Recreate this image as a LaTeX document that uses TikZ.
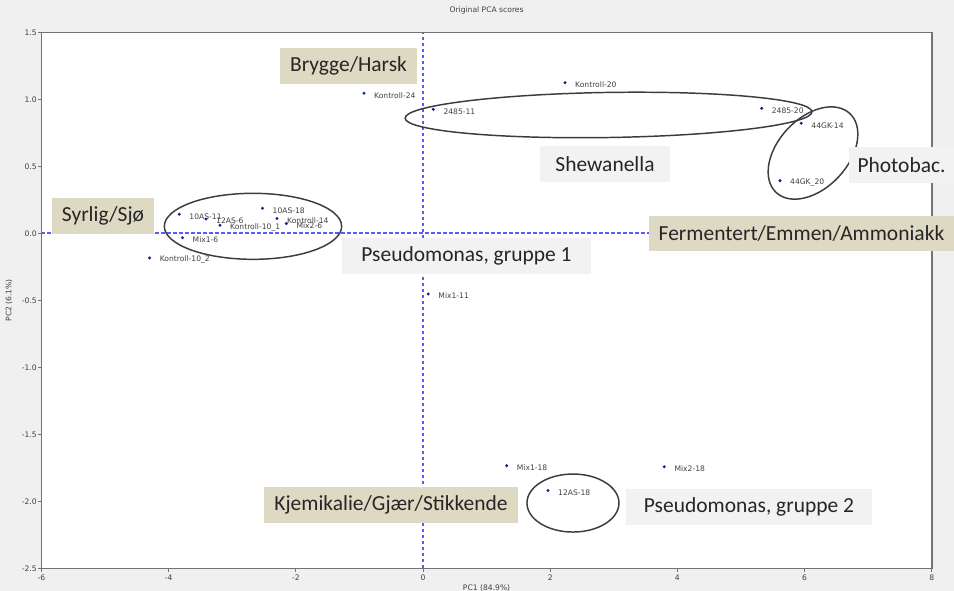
\documentclass[tikz,border=0pt]{standalone}
\usepackage{fontspec}
\setmainfont{Carlito}
\newfontfamily\plotfont{DejaVu Sans}
\usetikzlibrary{positioning}

\definecolor{figbg}{RGB}{240,240,240}
\definecolor{tanbox}{RGB}{221,217,195}
\definecolor{greybox}{RGB}{242,242,242}
\definecolor{dotblue}{RGB}{30,30,140}
\definecolor{dashblue}{RGB}{90,90,255}
\definecolor{ringgrey}{RGB}{60,60,60}
\definecolor{framegrey}{RGB}{115,115,115}

\newcommand\tinyfont{\plotfont\fontsize{5.7}{6.8}\selectfont}
\newcommand\boxfont{\fontsize{16.1}{19}\selectfont}

\tikzset{
  tanlabel/.style={fill=tanbox, text=black!85, inner sep=0pt, minimum height=26.5pt, font=\boxfont},
  greylabel/.style={fill=greybox, text=black!85, inner sep=0pt, minimum height=27pt, font=\boxfont},
  score/.style={circle, fill=dotblue, inner sep=0pt, minimum size=2.5pt},
  scorename/.style={font=\tinyfont, text=black!75, inner sep=0pt},
  ticklabel/.style={font=\tinyfont, text=black!75, inner sep=0pt},
  group/.style={draw=ringgrey, line width=1.1pt},
  zeroline/.style={draw=dashblue, line width=0.9pt, dash pattern=on 2.5pt off 2pt}
}

\begin{document}
\begin{tikzpicture}[x=47.7pt, y=100.5pt]

  % page and plot area, one unit is one PC unit
  \fill[figbg] (-6.651,-2.669) rectangle (8.349,1.741);
  \useasboundingbox (-6.651,-2.669) rectangle (8.349,1.741);
  \fill[white] (-6,-2.5) rectangle (8,1.5);

  % title and axis labels
  \node[ticklabel] (title) at (1,1.66) {Original PCA scores};
  \node[ticklabel, below=15pt of {(1,-2.5)}, anchor=center] (xlab) {PC1 (84.9\%)};
  \node[ticklabel, rotate=90] (ylab) at (-6.509,-0.5) {PC2 (6.1\%)};

  % zero lines
  \draw[zeroline] (0,-2.5) -- (0,1.5);
  \draw[zeroline] (-6,0.002) -- (8,0.002);

  % ticks
  \foreach \v in {-6,-4,-2,0,2,4,6,8}{
    \draw[framegrey, line width=0.5pt] (\v,-2.5) -- ++(0,-2.5pt);
    \node[ticklabel] at ([yshift=-7.3pt]\v,-2.5) {\v};
  }
  \foreach \v/\t in {1.5/1.5, 1.0/1.0, 0.5/0.5, 0.0/0.0, -0.5/-0.5, -1.0/-1.0, -1.5/-1.5, -2.0/-2.0, -2.5/-2.5}{
    \draw[framegrey, line width=0.5pt] (-6,\v) -- ++(-2.5pt,0);
    \node[ticklabel, anchor=east] at ([xshift=-3.4pt]-6,\v) {\t};
  }

  % groups
  \draw[group, rotate around={0.9:(2.917,0.883)}] (2.917,0.883) ellipse [x radius=152.6pt, y radius=16.9pt];
  \draw[group] (-2.673,0.052) ellipse [x radius=66.5pt, y radius=24.75pt];
  \draw[group, rotate around={47:(6.132,0.599)}] (6.132,0.599) ellipse [x radius=40.5pt, y radius=26.25pt];
  \draw[group] (2.358,-2.013) ellipse [x radius=34.5pt, y radius=21.75pt];

  % scores
  \foreach \px/\py/\name [count=\i] in {
      -0.928/1.045/Kontroll-24,
      0.162/0.925/2485-11,
      2.233/1.124/Kontroll-20,
      5.325/0.933/2485-20,
      5.948/0.821/44GK-14,
      5.613/0.393/44GK\_20,
      -3.832/0.142/10AS-11,
      -3.412/0.107/12AS-6,
      -3.192/0.060/Kontroll-10\_1,
      -2.524/0.187/10AS-18,
      -2.296/0.110/Kontroll-14,
      -2.149/0.073/Mix2-6,
      -3.781/-0.033/Mix1-6,
      -4.299/-0.184/Kontroll-10\_2,
      0.083/-0.453/Mix1-11,
      1.316/-1.734/Mix1-18,
      3.794/-1.742/Mix2-18,
      1.965/-1.919/12AS-18}{
    \node[score] (s\i) at (\px,\py) {};
    \node[scorename, right=6pt of s\i, yshift=-1.5pt] (n\i) {\name};
  }

  % frame
  \draw[framegrey, line width=1.1pt] (-6,-2.5) rectangle (8,1.5);

  % odour and bacteria labels
  \node[tanlabel, minimum width=102.75pt] (brygge) at (-1.171,1.249) {Brygge/Harsk};
  \node[tanlabel, minimum width=76.5pt] (syrlig) at (-5.031,0.129) {Syrlig/Sjø};
  \node[tanlabel, minimum width=190.5pt] (kjemi) at (-0.503,-2.028) {Kjemikalie/Gjær/Stikkende};
  \node[tanlabel, minimum width=228.75pt] (ferment) at (5.951,0) {Fermentert/Emmen/Ammoniakk};
  \node[greylabel, minimum width=97.5pt] (shew) at (2.862,0.517) {Shewanella};
  \node[greylabel, minimum width=78.75pt] (photo) at (7.524,0.510) {Photobac.};
  \node[greylabel, minimum width=186.75pt] (pseudoA) at (0.684,-0.169) {Pseudomonas, gruppe 1};
  \node[greylabel, minimum width=184.5pt] (pseudoB) at (5.126,-2.039) {Pseudomonas, gruppe 2};

\end{tikzpicture}
\end{document}
